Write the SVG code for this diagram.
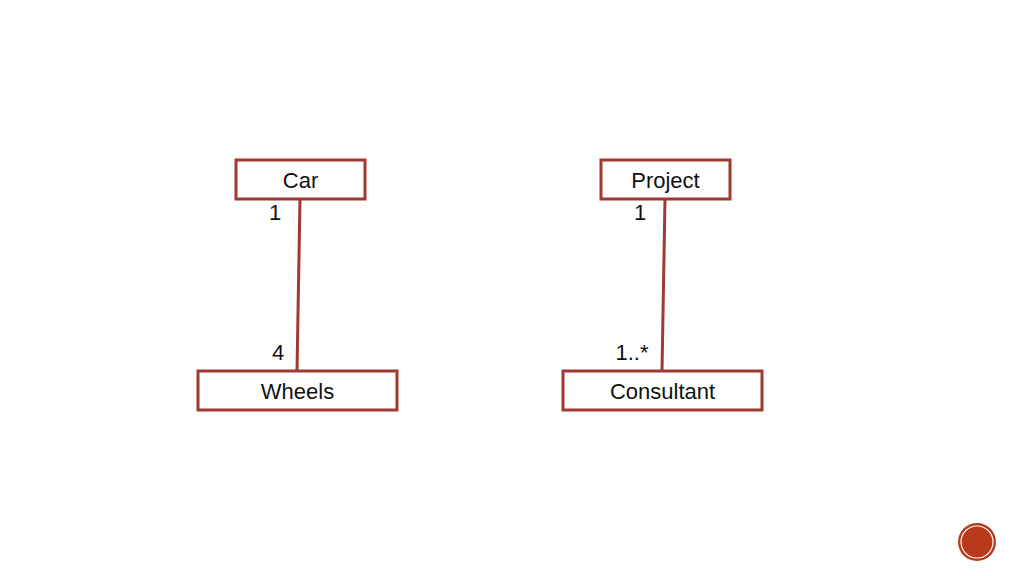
<svg xmlns="http://www.w3.org/2000/svg" width="1024" height="576" viewBox="0 0 1024 576">
<style>
.box{fill:#fff;stroke:#9e3a33;stroke-width:3}
.ln{stroke:#9e3a33;stroke-width:3;fill:none}
text{font-family:"Liberation Sans",Arial,sans-serif;font-size:22px;fill:#111}
.c{text-anchor:middle}
</style>
<rect width="1024" height="576" fill="#fff"/>
<g id="connectors">
<line class="ln" x1="300" y1="199" x2="297" y2="371"/>
<line class="ln" x1="665" y1="199" x2="662" y2="371"/>
</g>
<g id="car"><rect class="box" x="236" y="160" width="129" height="39"/><text class="c" x="300.5" y="188">Car</text></g>
<g id="wheels"><rect class="box" x="198" y="371" width="199" height="39"/><text class="c" x="297.5" y="399">Wheels</text></g>
<g id="project"><rect class="box" x="601" y="160" width="129" height="39"/><text class="c" x="665.5" y="188">Project</text></g>
<g id="consultant"><rect class="box" x="563" y="371" width="199" height="39"/><text class="c" x="662.5" y="399">Consultant</text></g>
<g id="labels">
<text class="c" x="275" y="220">1</text>
<text class="c" x="278" y="360">4</text>
<text class="c" x="640" y="220">1</text>
<text class="c" x="632" y="360">1..*</text>
</g>
<g id="badge">
<circle cx="977" cy="542" r="19" fill="#b83a1b"/>
<circle cx="977" cy="542" r="16" fill="none" stroke="#fff" stroke-width="1.2"/>
</g>
</svg>
